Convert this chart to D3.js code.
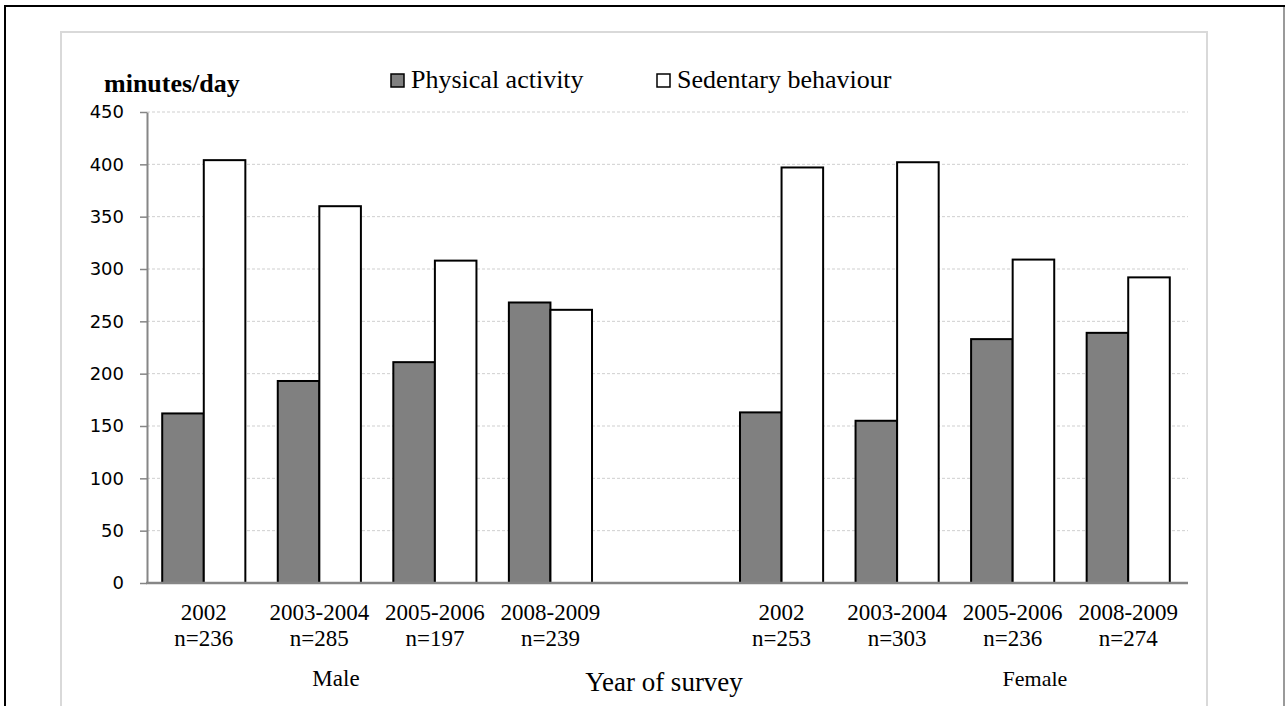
<!DOCTYPE html>
<html>
<head>
<meta charset="utf-8">
<script src="https://cdn.jsdelivr.net/npm/d3@7"></script>
<style>
  body { margin: 0; background: #fff; }
  svg { display: block; }
</style>
</head>
<body>
<div id="chart"></div>
<script>
// Data
const years = ['2002', '2003-2004', '2005-2006', '2008-2009']
const maleN = [236, 285, 197, 239]
const femaleN = [253, 303, 236, 274]
const malePhysical = [162, 193, 211, 268]
const maleSedentary = [404, 360, 308, 261]
const femalePhysical = [163, 155, 233, 239]
const femaleSedentary = [397, 402, 309, 292]
const seriesNames = ['Physical activity', 'Sedentary behaviour']
const yTicks = [0, 50, 100, 150, 200, 250, 300, 350, 400, 450]

// una riga per ogni slot dell'asse x, con uno slot vuoto tra maschi e femmine
const rows = []
years.forEach((y, i) => rows.push({ key: 'M' + y, year: y, n: maleN[i], physical: malePhysical[i], sedentary: maleSedentary[i] }))
rows.push({ key: 'gap', year: '', n: null })
years.forEach((y, i) => rows.push({ key: 'F' + y, year: y, n: femaleN[i], physical: femalePhysical[i], sedentary: femaleSedentary[i] }))

const serif = "'Liberation Serif', 'Times New Roman', serif"
const dimensions = { width: 1285, height: 706 }

const svg = d3.select('#chart')
  .append('svg')
  .attr('width', dimensions.width)
  .attr('height', dimensions.height)

// cornici
svg.append('rect')
  .attr('x', 5).attr('y', 6)
  .attr('width', 1279).attr('height', 720)
  .attr('fill', 'none').attr('stroke', '#000').attr('stroke-width', 2)
svg.append('line')
  .attr('x1', 1284).attr('x2', 1284).attr('y1', 7).attr('y2', 706)
  .attr('stroke', '#9a9a9a').attr('stroke-width', 2)
svg.append('rect')
  .attr('x', 61).attr('y', 32)
  .attr('width', 1146).attr('height', 700)
  .attr('fill', '#fff').attr('stroke', '#d9d9d9').attr('stroke-width', 2)

// Scales
const xScale = d3.scaleBand()
  .domain(rows.map(d => d.key))
  .range([146, 1186])
  .padding(0)
const seriesScale = d3.scaleBand()
  .domain(['physical', 'sedentary'])
  .range([0, xScale.bandwidth()])
  .paddingInner(0)
  .paddingOuter(0.39)
const yScale = d3.scaleLinear()
  .domain([0, 450])
  .range([583, 112])
const colors = { physical: '#808080', sedentary: '#ffffff' }

// griglia
svg.append('g')
  .selectAll('line')
  .data(yTicks.filter(t => t > 0))
  .join('line')
  .attr('x1', 147).attr('x2', 1188)
  .attr('y1', d => yScale(d)).attr('y2', d => yScale(d))
  .attr('stroke', '#cfcfcf')
  .attr('stroke-width', 1)
  .attr('stroke-dasharray', '3,2')

// barre
const groups = svg.append('g')
  .selectAll('g')
  .data(rows.filter(d => d.n !== null))
  .join('g')
  .attr('transform', d => `translate(${xScale(d.key)},0)`)

groups.selectAll('rect')
  .data(d => ['physical', 'sedentary'].map(k => ({ k, v: d[k] })))
  .join('rect')
  .attr('x', d => seriesScale(d.k))
  .attr('y', d => yScale(d.v))
  .attr('width', seriesScale.bandwidth())
  .attr('height', d => yScale(0) - yScale(d.v))
  .attr('fill', d => colors[d.k])
  .attr('stroke', '#000')
  .attr('stroke-width', 2)

// asse y
const yAxis = d3.axisLeft(yScale)
  .tickValues(yTicks)
  .tickSize(7)
  .tickSizeOuter(0)
const yAxisGroup = svg.append('g')
  .attr('transform', 'translate(147,0)')
  .call(yAxis)
yAxisGroup.select('.domain').attr('stroke', '#868686').attr('stroke-width', 2)
yAxisGroup.selectAll('.tick line').attr('stroke', '#868686').attr('stroke-width', 1.5)
yAxisGroup.selectAll('.tick text')
  .attr('x', -23)
  .attr('font-family', 'DejaVu Sans')
  .attr('font-size', 18)
  .attr('fill', '#000')

// asse x (linea di base)
svg.append('line')
  .attr('x1', 146).attr('x2', 1188)
  .attr('y1', yScale(0)).attr('y2', yScale(0))
  .attr('stroke', '#868686').attr('stroke-width', 2.5)

// etichette delle categorie
const labels = svg.append('g')
  .style('font-family', serif)
  .attr('font-size', 23)
  .attr('text-anchor', 'middle')
  .selectAll('g')
  .data(rows.filter(d => d.n !== null))
  .join('g')
  .attr('transform', d => `translate(${xScale(d.key) + xScale.bandwidth() / 2},0)`)
labels.append('text').attr('y', 620).text(d => d.year)
labels.append('text').attr('y', 646).text(d => 'n=' + d.n)

svg.append('text')
  .attr('x', 336).attr('y', 686)
  .style('font-family', serif).attr('font-size', 23)
  .attr('text-anchor', 'middle')
  .text('Male')
svg.append('text')
  .attr('x', 1035).attr('y', 686)
  .style('font-family', serif).attr('font-size', 22)
  .attr('text-anchor', 'middle')
  .text('Female')
svg.append('text')
  .attr('x', 664).attr('y', 691)
  .style('font-family', serif).attr('font-size', 27)
  .attr('text-anchor', 'middle')
  .text('Year of survey')

// titolo asse y
svg.append('text')
  .attr('x', 104).attr('y', 92)
  .style('font-family', serif).attr('font-size', 26)
  .attr('font-weight', 'bold')
  .text('minutes/day')

// legenda
const legendX = [391, 657]
const legend = svg.append('g')
  .selectAll('g')
  .data(['physical', 'sedentary'])
  .join('g')
  .attr('transform', (d, i) => `translate(${legendX[i]},0)`)
legend.append('rect')
  .attr('x', 0).attr('y', 74)
  .attr('width', 13).attr('height', 13)
  .attr('fill', d => colors[d])
  .attr('stroke', '#000').attr('stroke-width', 1.5)
legend.append('text')
  .attr('x', 20).attr('y', 88)
  .style('font-family', serif).attr('font-size', 26)
  .text((d, i) => seriesNames[i])
</script>
</body>
</html>
